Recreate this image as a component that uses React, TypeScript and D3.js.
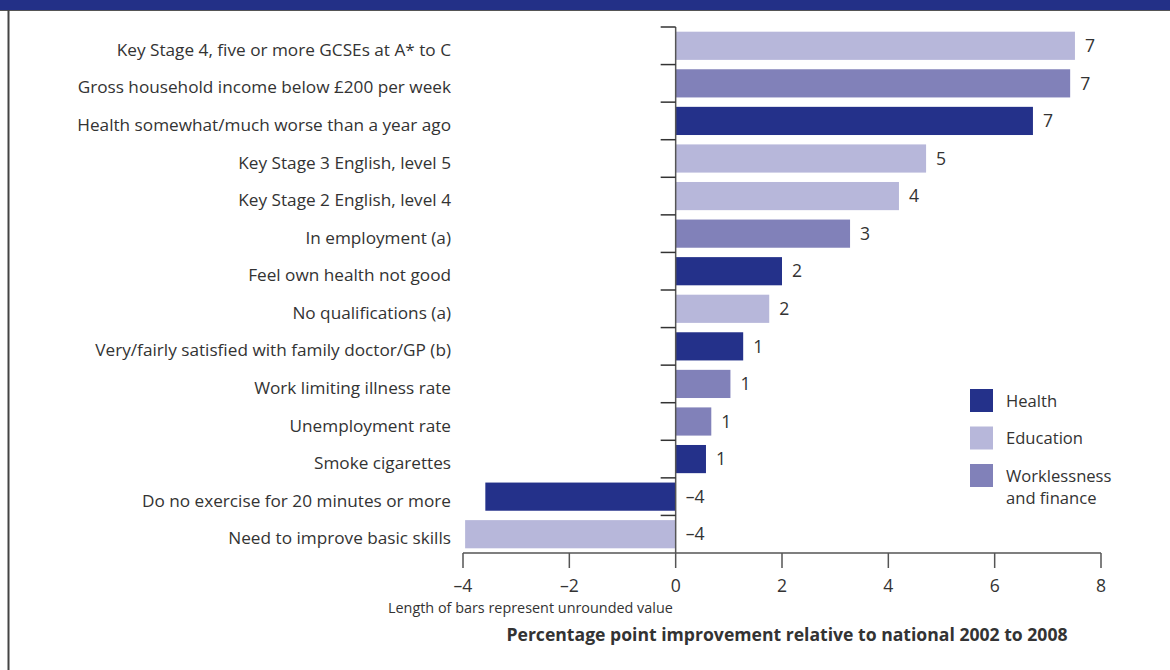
import React from "react";
import * as d3 from "d3";

const categories = [
  "Key Stage 4, five or more GCSEs at A* to C",
  "Gross household income below £200 per week",
  "Health somewhat/much worse than a year ago",
  "Key Stage 3 English, level 5",
  "Key Stage 2 English, level 4",
  "In employment (a)",
  "Feel own health not good",
  "No qualifications (a)",
  "Very/fairly satisfied with family doctor/GP (b)",
  "Work limiting illness rate",
  "Unemployment rate",
  "Smoke cigarettes",
  "Do no exercise for 20 minutes or more",
  "Need to improve basic skills",
];
const groups = [
  "Education", "Worklessness", "Health", "Education", "Education", "Worklessness",
  "Health", "Education", "Health", "Worklessness", "Worklessness", "Health", "Health", "Education",
];
const values = [7.51, 7.42, 6.72, 4.71, 4.2, 3.28, 2.0, 1.76, 1.27, 1.03, 0.67, 0.57, -3.58, -3.96];
const valueLabels = ["7", "7", "7", "5", "4", "3", "2", "2", "1", "1", "1", "1", "–4", "–4"];
const xTicks = [-4, -2, 0, 2, 4, 6, 8];
const legendKeys = ["Health", "Education", "Worklessness"];
const legendLabels = [["Health"], ["Education"], ["Worklessness", "and finance"]];
const colors: Record<string, string> = {
  Health: "#24318a",
  Education: "#b7b7da",
  Worklessness: "#8181b9",
};

const W = 1170;
const H = 670;
const FONT = "'Open Sans', sans-serif";
const TEXT = "#333";

export default function App() {
  const x = d3.scaleLinear().domain([-4, 8]).range([463, 1101]);
  const y = d3.scaleBand<string>().domain(categories).range([27, 553]).paddingInner(0.25).paddingOuter(0.125);
  const step = y.step();
  const boundaries = d3.range(categories.length).map((i) => 27 + i * step);
  const fmt = (v: number) => (v < 0 ? "–" + Math.abs(v) : String(v));

  return (
    <svg width={W} height={H} style={{ position: "absolute", left: 0, top: 0, background: "#fff" }}>
      <rect x={0} y={0} width={W} height={10} fill="#233087" />
      <line x1={0} x2={W} y1={10.5} y2={10.5} stroke="#555" strokeWidth={1} />
      <line x1={8.5} x2={8.5} y1={10} y2={H} stroke="#444" strokeWidth={2} />

      {categories.map((c, i) => {
        const v = values[i];
        const y0 = y(c)!;
        const bw = y.bandwidth();
        return (
          <g key={c}>
            <rect
              x={Math.min(x(0), x(v))}
              y={y0}
              width={Math.abs(x(v) - x(0))}
              height={bw}
              fill={colors[groups[i]]}
            />
            <text x={451} y={y0 + bw / 2 + 4} dy="0.35em" textAnchor="end" fontFamily={FONT} fontSize={17.2} fill={TEXT}>
              {c}
            </text>
            <text
              x={(v >= 0 ? x(v) : x(0)) + 10}
              y={y0 + bw / 2}
              dy="0.35em"
              fontFamily={FONT}
              fontSize={17.6}
              fill={TEXT}
            >
              {valueLabels[i]}
            </text>
          </g>
        );
      })}

      {/* y axis */}
      <line x1={x(0)} x2={x(0)} y1={27} y2={553} stroke="#555" strokeWidth={1.5} />
      {boundaries.map((b, i) => (
        <line key={i} x1={x(0) - 15} x2={x(0)} y1={b} y2={b} stroke="#333" strokeWidth={1.5} />
      ))}

      {/* x axis */}
      <line x1={x(-4)} x2={x(8)} y1={553} y2={553} stroke="#555" strokeWidth={1.5} />
      {xTicks.map((t) => (
        <g key={t}>
          <line x1={x(t)} x2={x(t)} y1={553} y2={568} stroke="#555" strokeWidth={1.5} />
          <text x={x(t)} y={592} textAnchor="middle" fontFamily={FONT} fontSize={17.6} fill={TEXT}>
            {fmt(t)}
          </text>
        </g>
      ))}
      <text x={388} y={613} fontFamily={FONT} fontSize={14.4} fill={TEXT}>
        Length of bars represent unrounded value
      </text>
      <text x={787} y={641} textAnchor="middle" fontFamily={FONT} fontSize={17.6} fontWeight="bold" fill={TEXT}>
        Percentage point improvement relative to national 2002 to 2008
      </text>

      {/* legend */}
      {legendKeys.map((k, i) => (
        <g key={k}>
          <rect x={970} y={389 + i * 37.5} width={23} height={23} fill={colors[k]} />
          {legendLabels[i].map((l, j) => (
            <text key={l} x={1006} y={401 + i * 37.5 + j * 22} dy="0.35em" fontFamily={FONT} fontSize={16.6} fill={TEXT}>
              {l}
            </text>
          ))}
        </g>
      ))}
    </svg>
  );
}
